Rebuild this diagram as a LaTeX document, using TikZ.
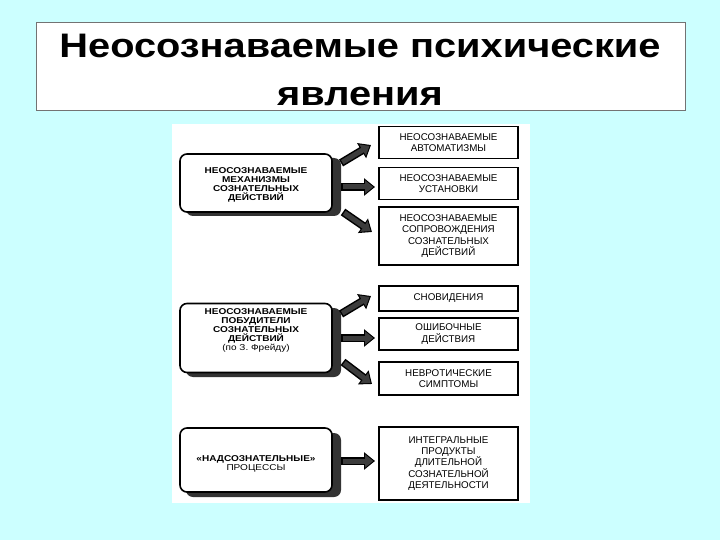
\documentclass[tikz,border=0pt]{standalone}
\usepackage{fontspec}
\setmainfont{Liberation Sans}
\usetikzlibrary{arrows.meta}
\definecolor{bgcyan}{RGB}{204,255,255}
\definecolor{arrowgray}{RGB}{60,60,60}
\tikzset{
  lbox/.style={draw=black, line width=1.6pt, rounded corners=7pt, fill=white, inner sep=0pt},
  ltext/.style={align=center, font=\fontsize{8.5}{9}\selectfont\bfseries, inner sep=0pt, xscale=1.18},
  shadowbox/.style={fill=black!80, rounded corners=7pt},
  rbox/.style={draw=black, line width=1.1pt, fill=white, align=center,
    font=\fontsize{9.8}{11.4}\selectfont, inner sep=0pt},
  arrowout/.style={draw=black, line width=8pt, -{Triangle[length=11pt,width=17pt]}},
  arrowin/.style={draw=arrowgray, line width=5pt, -{Triangle[length=8pt,width=12.5pt]}},
}
\newcommand{\blockarrow}[2]{%
  \draw[arrowout] (#1) -- (#2);
  \draw[arrowin, shorten <=1.5pt, shorten >=1.8pt] (#1) -- (#2);
}
\begin{document}
\begin{tikzpicture}[x=1pt,y=-1pt]
\useasboundingbox (0,0) rectangle (720,540);
\fill[bgcyan] (0,0) rectangle (720,540);
% title box
\node[draw=black!55, line width=0.8pt, fill=white, minimum width=649pt, minimum height=88pt, inner sep=0pt] (title) at (360.5,66) {};
\node[font=\fontsize{34}{48}\selectfont\bfseries, align=center, xscale=1.17] (titletext) at (360,70) {Неосознаваемые психические\\явления};
% picture area
\fill[white] (172,124) rectangle (530,503);

% left boxes: shadows
\fill[shadowbox] (186,158) rectangle (341,216);
\fill[shadowbox] (186,308) rectangle (341,377);
\fill[shadowbox] (186,433) rectangle (341,497);
\node[lbox, minimum width=152pt, minimum height=58pt] (b1) at (256,183) {};
\node[lbox, minimum width=152pt, minimum height=69pt] (b2) at (256,338) {};
\node[lbox, minimum width=152pt, minimum height=64pt] (b3) at (256,460) {};
\node[ltext] (b1t) at (256,184.5) {НЕОСОЗНАВАЕМЫЕ\\МЕХАНИЗМЫ\\СОЗНАТЕЛЬНЫХ\\ДЕЙСТВИЙ};
\node[ltext] (b2t) at (256,330) {НЕОСОЗНАВАЕМЫЕ\\ПОБУДИТЕЛИ\\СОЗНАТЕЛЬНЫХ\\ДЕЙСТВИЙ\\{\mdseries(по З. Фрейду)}};
\node[ltext] (b3t) at (256,464) {«НАДСОЗНАТЕЛЬНЫЕ»\\{\mdseries ПРОЦЕССЫ}};

% right boxes
\node[rbox, minimum width=139pt, minimum height=32pt] (r1) at (448.5,142.5) {НЕОСОЗНАВАЕМЫЕ\\АВТОМАТИЗМЫ};
\node[rbox, minimum width=139pt, minimum height=32pt] (r2) at (448.5,183.5) {НЕОСОЗНАВАЕМЫЕ\\УСТАНОВКИ};
\node[rbox, minimum width=139pt, minimum height=58pt] (r3) at (448.5,236) {НЕОСОЗНАВАЕМЫЕ\\СОПРОВОЖДЕНИЯ\\СОЗНАТЕЛЬНЫХ\\ДЕЙСТВИЙ};
\node[rbox, minimum width=139pt, minimum height=25pt] (r4) at (448.5,298.5) {СНОВИДЕНИЯ};
\node[rbox, minimum width=139pt, minimum height=32pt] (r5) at (448.5,334) {ОШИБОЧНЫЕ\\ДЕЙСТВИЯ};
\node[rbox, minimum width=139pt, minimum height=33pt] (r6) at (448.5,378.5) {НЕВРОТИЧЕСКИЕ\\СИМПТОМЫ};
\node[rbox, minimum width=139pt, minimum height=73pt] (r7) at (448.5,463.5) {ИНТЕГРАЛЬНЫЕ\\ПРОДУКТЫ\\ДЛИТЕЛЬНОЙ\\СОЗНАТЕЛЬНОЙ\\ДЕЯТЕЛЬНОСТИ};

% arrow end points
\coordinate (a1s) at (341,163); \coordinate (a1e) at (371,145);
\coordinate (a2s) at (341,187); \coordinate (a2e) at (375,187);
\coordinate (a3s) at (343,212); \coordinate (a3e) at (372,232);
\coordinate (a4s) at (341,314); \coordinate (a4e) at (371,296);
\coordinate (a5s) at (341,338); \coordinate (a5e) at (375,338);
\coordinate (a6s) at (343,362); \coordinate (a6e) at (372,384);
\coordinate (a7s) at (341,461); \coordinate (a7e) at (375,461);
\blockarrow{a1s}{a1e}
\blockarrow{a2s}{a2e}
\blockarrow{a3s}{a3e}
\blockarrow{a4s}{a4e}
\blockarrow{a5s}{a5e}
\blockarrow{a6s}{a6e}
\blockarrow{a7s}{a7e}
\end{tikzpicture}
\end{document}
